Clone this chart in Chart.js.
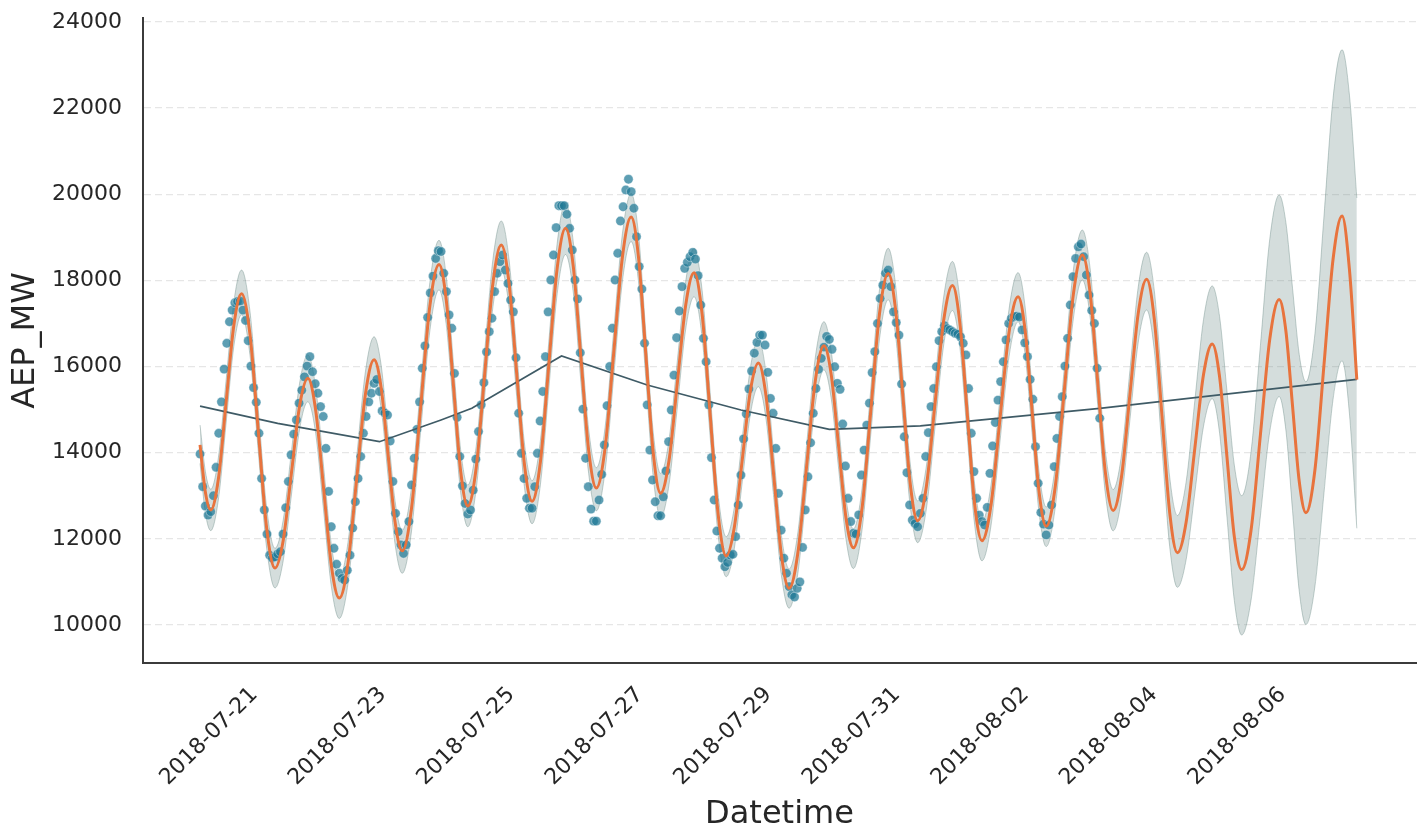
<!DOCTYPE html>
<html>
<head>
<meta charset="utf-8">
<script src="https://cdn.jsdelivr.net/npm/chart.js@4.4.0/dist/chart.umd.min.js"></script>
<style>
html,body{margin:0;padding:0;background:#ffffff;}
#wrap{width:1423px;height:836px;position:relative;}
</style>
</head>
<body>
<div id="wrap"><canvas id="c" width="1423" height="836"></canvas></div>
<script>
// ---- x axis: hours since 2018-07-20 00:00 ----
const tickHours = [24, 72, 120, 168, 216, 264, 312, 360, 408];
const tickLabels = ['2018-07-21','2018-07-23','2018-07-25','2018-07-27','2018-07-29','2018-07-31','2018-08-02','2018-08-04','2018-08-06'];
const yTicks = [10000, 12000, 14000, 16000, 18000, 20000, 22000, 24000];

// ---- observed hourly AEP_MW (2018-07-20 00:00 .. 2018-08-03 00:00) ----
const actualMW = [
 13970,13210,12760,12550,12630,13000,13660,14450,15180,15940,16540,17040,17310,17480,17510,17520,17310,17070,16600,16010,15510,15170,14450,13400,
 12670,12110,11620,11550,11580,11650,11700,12110,12720,13330,13950,14430,14760,15150,15450,15760,16010,16230,15880,15600,15380,15070,14840,14100,
 13100,12280,11780,11410,11200,11080,11040,11270,11620,12250,12860,13400,13910,14450,14840,15180,15380,15610,15700,15420,14970,14920,14875,14270,
 13330,12590,12165,11860,11660,11860,12400,13250,13870,14540,15180,15960,16480,17140,17710,18100,18510,18690,18670,18165,17740,17200,16890,15840,
 14820,13910,13230,12820,12575,12670,13130,13850,14490,15110,15625,16340,16810,17120,17740,18165,18435,18590,18240,17930,17545,17270,16205,14915,
 13985,13400,12940,12710,12710,13210,13985,14735,15420,16230,17270,18010,18590,19225,19735,19735,19735,19535,19210,18705,18010,17570,16320,15010,
 13870,13210,12690,12410,12410,12900,13495,14180,15090,16000,16890,18010,18630,19380,19710,20100,20350,20060,19675,19015,18320,17800,16540,15110,
 14060,13365,12860,12535,12535,12975,13575,14255,14990,15800,16670,17290,17855,18280,18420,18550,18650,18495,18110,17430,16655,16110,15110,13885,
 12900,12180,11780,11550,11350,11450,11620,11640,12050,12785,13480,14320,14900,15480,15895,16310,16560,16730,16730,16500,15865,15260,14915,14100,
 13055,12200,11550,11200,10890,10700,10650,10850,11000,11800,12670,13440,14230,14915,15490,15935,16190,16450,16700,16630,16400,15995,15610,15470,
 14665,13690,12940,12400,12130,12110,12555,13480,14060,14640,15150,15860,16345,17000,17580,17890,18165,18240,17855,17270,17020,16730,15595,14370,
 13535,12785,12435,12350,12280,12590,12940,13910,14465,15070,15490,15995,16600,16810,16950,16880,16850,16810,16770,16750,16690,16540,16270,15490,
 14450,13560,12940,12550,12400,12320,12730,13520,14155,14700,15220,15650,16110,16620,17000,17120,17160,17170,17150,16850,16550,16230,15700,15240,
 14140,13290,12610,12340,12090,12320,12785,13675,14330,14840,15300,16010,16655,17430,18085,18510,18780,18845,18550,18125,17660,17300,17000,15960,
 14800
];

// ---- forecast (yhat) with uncertainty band, hours since start ----
const fcHours = [
 0,2,4,
 6.875,9.75,12.625,15.5,
 18.625,21.75,24.875,28,
 31.06,34.13,37.19,40.25,
 43.19,46.13,49.06,52,
 55.25,58.5,61.75,65,
 67.63,70.25,72.88,75.5,
 78.94,82.38,85.81,89.25,
 91.94,94.63,97.31,100,
 103.125,106.25,109.375,112.5,
 115.375,118.25,121.125,124,
 127.125,130.25,133.375,136.5,
 139.375,142.25,145.125,148,
 151.25,154.5,157.75,161,
 163.75,166.5,169.25,172,
 175.125,178.25,181.375,184.5,
 187.5,190.5,193.5,196.5,
 199.5,202.5,205.5,208.5,
 211.375,214.25,217.125,220,
 223.25,226.5,229.75,233,
 235.75,238.5,241.25,244,
 247.25,250.5,253.75,257,
 259.75,262.5,265.25,268,
 271.25,274.5,277.75,281,
 283.75,286.5,289.25,292,
 295.375,298.75,302.125,305.5,
 308.125,310.75,313.375,316,
 319.375,322.75,326.125,329.5,
 332.375,335.25,338.125,341,
 344.125,347.25,350.375,353.5,
 356.375,359.25,362.125,365,
 368.25,371.5,374.75,378,
 380.75,383.5,386.25,389,
 392.5,396,399.5,403,
 405.5,408,410.5,413,
 416.375,419.75,423.125,426.5,
 429.25,432
];
const yhat = [
 14180,13080,12670,
 13400,15180,16960,17690,
 16760,14505,12250,11320,
 11960,13525,15090,15730,
 14985,13180,11370,10625,
 11430,13390,15350,16160,
 15510,13940,12370,11720,
 12690,15045,17400,18370,
 17550,15565,13580,12760,
 13645,15790,17935,18820,
 17950,15845,13740,12870,
 13795,16040,18285,19210,
 18330,16195,14060,13180,
 14100,16325,18550,19470,
 18535,16265,13995,13060,
 13810,15620,17430,18180,
 17220,14890,12560,11600,
 12255,13840,15425,16080,
 15315,13465,11615,10850,
 11670,13665,15660,16480,
 15795,14135,12475,11790,
 12720,14975,17230,18160,
 17320,15290,13260,12420,
 13215,15150,17085,17880,
 17015,14920,12820,11955,
 12780,14790,16795,17620,
 16840,14955,13070,12290,
 13210,15440,17670,18590,
 17725,15625,13525,12657,
 13440,15340,17240,18025,
 17100,14850,12605,11677,
 12385,14100,15815,16525,
 15760,13905,12050,11285,
 12200,14420,16640,17554,
 16830,15080,13330,12606,
 13610,16050,18490,19495,
 18250,15694
];
const yhatUpper = [
 14640,13560,13150,
 13895,15695,17495,18240,
 17295,15010,12725,11780,
 12435,14025,15615,16270,
 15515,13685,11855,11100,
 11915,13895,15875,16690,
 16035,14445,12855,12200,
 13185,15565,17945,18930,
 18100,16090,14080,13250,
 14145,16315,18485,19380,
 18500,16365,14230,13350,
 14290,16575,18860,19800,
 18900,16725,14550,13650,
 14580,16835,19090,20020,
 19070,16770,14470,13520,
 14285,16135,17980,18745,
 17770,15400,13025,12050,
 12720,14340,15960,16630,
 15850,13965,12080,11300,
 12140,14170,16200,17040,
 16340,14635,12930,12230,
 13180,15490,17795,18745,
 17890,15815,13735,12880,
 13690,15660,17630,18440,
 17560,15420,13280,12400,
 13245,15290,17335,18180,
 17385,15460,13535,12740,
 13680,15955,18230,19170,
 18290,16160,14025,13145,
 13950,15900,17850,18652,
 17760,15596,13431,12539,
 13317,15205,17092,17870,
 17159,15435,13711,13000,
 14020,16492,18963,19983,
 19349,17814,16277,15644,
 16770,19500,22229,23355,
 22300,19913
];
const yhatLower = [
 13750,12600,12190,
 12920,14695,16470,17200,
 16275,14030,11785,10860,
 11490,13020,14550,15180,
 14445,12665,10885,10150,
 10955,12915,14875,15680,
 15025,13440,11855,11200,
 12160,14490,16820,17780,
 16975,15030,13085,12280,
 13150,15265,17380,18250,
 17390,15300,13210,12350,
 13265,15475,17690,18600,
 17730,15625,13520,12650,
 13565,15775,17990,18900,
 17965,15700,13435,12500,
 13250,15060,16870,17620,
 16670,14370,12070,11120,
 11765,13325,14885,15530,
 14780,12960,11140,10390,
 11195,13155,15115,15920,
 15245,13615,11985,11310,
 12220,14430,16640,17550,
 16725,14730,12735,11910,
 12695,14605,16515,17300,
 16450,14395,12340,11490,
 12300,14265,16230,17040,
 16280,14430,12580,11820,
 12725,14915,17105,18010,
 17160,15100,13035,12186,
 12935,14750,16565,17313,
 16373,14094,11814,10874,
 11513,13064,14614,15253,
 14452,12510,10567,9766,
 10574,12534,14494,15302,
 14529,12656,10783,10010,
 10904,13072,15239,16133,
 14900,12244
];

// ---- trend component ----
const trendHours = [0, 29, 67, 90, 101.5, 135, 167, 202, 235, 269, 336, 432];
const trendMW = [15080, 14680, 14255, 14760, 15030, 16245, 15570, 14990, 14540, 14620, 15030, 15700];

// ---- build datasets ----
const toXY = (xs, ys) => ys.map((v, i) => ({x: xs[i], y: v}));
const actualPts = actualMW.map((v, i) => ({x: i, y: v}));

const FONT = 'DejaVu Sans';
const TEXT = '#262626';
const AXIS = '#3b3b3b';
const BAND = 'rgba(112,143,138,0.30)';
const BAND_EDGE = 'rgba(112,143,138,0.42)';

new Chart(document.getElementById('c'), {
  type: 'line',
  data: {
    datasets: [
      { label: 'upper', data: toXY(fcHours, yhatUpper), borderColor: BAND_EDGE, borderWidth: 1,
        pointRadius: 0, fill: false, cubicInterpolationMode: 'monotone', order: 10 },
      { label: 'lower', data: toXY(fcHours, yhatLower), borderColor: BAND_EDGE, borderWidth: 1,
        backgroundColor: BAND, pointRadius: 0, fill: '-1', cubicInterpolationMode: 'monotone', order: 9 },
      { label: 'actual', data: actualPts, showLine: false, pointRadius: 4.7, pointHoverRadius: 4.7,
        pointBackgroundColor: 'rgba(30,120,150,0.72)', pointBorderColor: 'rgba(255,255,255,0.55)',
        pointBorderWidth: 0.7, order: 5 },
      { label: 'trend', data: toXY(trendHours, trendMW), borderColor: '#3f5b66', borderWidth: 1.7,
        pointRadius: 0, fill: false, tension: 0, order: 2 },
      { label: 'yhat', data: toXY(fcHours, yhat), borderColor: '#e8733d', borderWidth: 3,
        pointRadius: 0, fill: false, cubicInterpolationMode: 'monotone', order: 1 }
    ]
  },
  options: {
    responsive: false,
    animation: false,
    devicePixelRatio: 1,
    layout: { padding: { left: 0, right: 7, top: 18, bottom: 0 } },
    plugins: { legend: { display: false }, tooltip: { enabled: false } },
    scales: {
      x: {
        type: 'linear', min: -21.3, max: 454.1,
        afterBuildTicks: s => { s.ticks = tickHours.map(v => ({value: v})); },
        afterFit: s => { s.height = 173; s.paddingLeft = 0; s.paddingRight = 0; },
        grid: { display: false, drawTicks: false },
        border: { display: true, color: AXIS, width: 2 },
        ticks: {
          autoSkip: false, minRotation: 45, maxRotation: 45, padding: 19, labelOffset: -10,
          color: TEXT, font: { family: FONT, size: 22 },
          callback: (v) => { const k = tickHours.indexOf(v); return k >= 0 ? tickLabels[k] : ''; }
        },
        title: { display: true, text: 'Datetime', color: TEXT, font: { family: FONT, size: 32 },
                 padding: { top: 0, bottom: 2 } }
      },
      y: {
        type: 'linear', min: 9116, max: 24093,
        afterBuildTicks: s => { s.ticks = yTicks.map(v => ({value: v})); },
        afterFit: s => { s.width = 143; s.paddingTop = 0; s.paddingBottom = 0; },
        grid: { color: '#e6e6e6', lineWidth: 1.3, drawTicks: false },
        border: { display: true, color: AXIS, width: 2, dash: [7, 4] },
        ticks: { padding: 21, color: TEXT, font: { family: FONT, size: 22 }, callback: v => String(v) },
        title: { display: true, text: 'AEP_MW', color: TEXT, font: { family: FONT, size: 32 },
                 padding: { top: 6, bottom: 0 } }
      }
    }
  }
});
</script>
</body>
</html>
